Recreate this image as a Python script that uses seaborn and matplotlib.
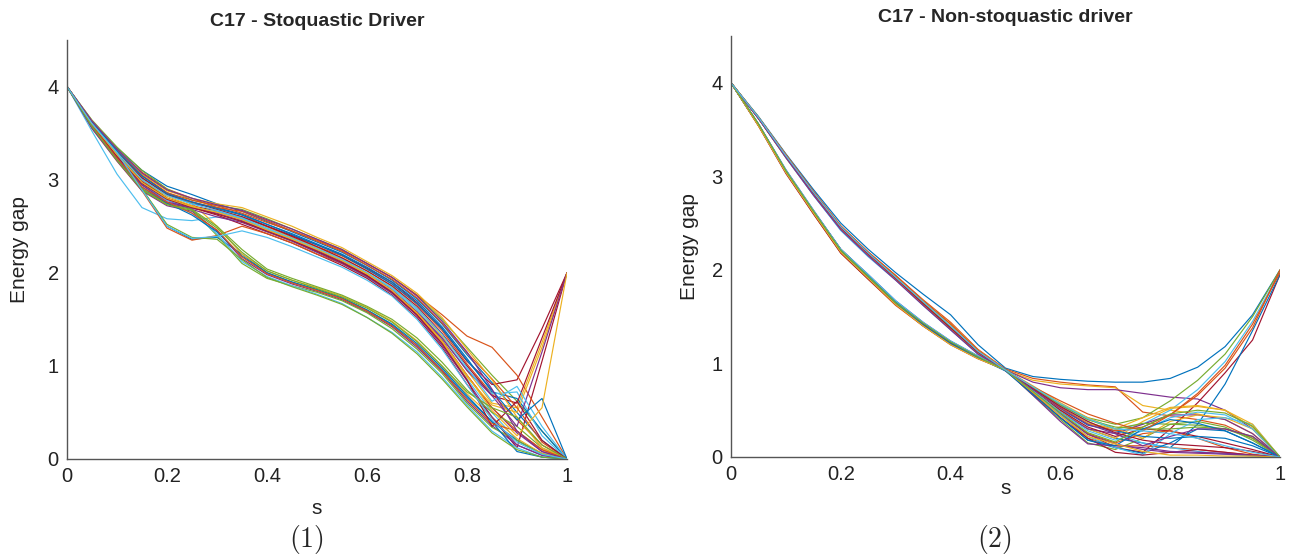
import pandas as pd
import matplotlib.pyplot as plt
import seaborn as sns

# s grid shared by every curve (both panels)
s_grid = [0, .05, .1, .15, .2, .25, .3, .35, .4, .45, .5, .55, .6, .65, .7, .75, .8, .85, .9, .95, 1.0]

# --- panel 1: stoquastic driver (energy gap) ---
st01 = [4, 3.63, 3.34, 3.10, 2.93, 2.84, 2.74, 2.66, 2.55, 2.44, 2.33, 2.22, 2.08, 1.92, 1.72, 1.45, 1.12, 0.82, 0.50, 0.20, 0]
st02 = [4, 3.62, 3.32, 3.08, 2.90, 2.80, 2.70, 2.62, 2.50, 2.40, 2.28, 2.18, 2.04, 1.88, 1.66, 1.38, 1.02, 0.70, 0.42, 0.15, 0]
st03 = [4, 3.55, 3.20, 2.88, 2.74, 2.70, 2.68, 2.60, 2.49, 2.38, 2.27, 2.16, 2.02, 1.85, 1.62, 1.32, 0.95, 0.60, 0.55, 1.25, 2.0]
st04 = [4, 3.56, 3.22, 2.90, 2.75, 2.69, 2.66, 2.58, 2.46, 2.35, 2.24, 2.13, 1.99, 1.82, 1.58, 1.28, 0.90, 0.55, 0.28, 0.08, 0]
st05 = [4, 3.64, 3.35, 3.10, 2.90, 2.78, 2.72, 2.68, 2.58, 2.47, 2.36, 2.25, 2.10, 1.95, 1.76, 1.50, 1.20, 0.90, 0.62, 0.30, 0]
st06 = [4, 3.52, 3.06, 2.70, 2.58, 2.56, 2.60, 2.56, 2.45, 2.34, 2.22, 2.10, 1.95, 1.78, 1.55, 1.24, 0.86, 0.50, 0.20, 0.05, 0]
st07 = [4, 3.60, 3.28, 3.00, 2.80, 2.70, 2.62, 2.52, 2.42, 2.32, 2.20, 2.08, 1.94, 1.76, 1.52, 1.20, 0.80, 0.45, 0.12, 1.05, 2.0]
st08 = [4, 3.60, 3.30, 2.90, 2.50, 2.36, 2.38, 2.20, 2.00, 1.90, 1.82, 1.73, 1.60, 1.44, 1.22, 0.96, 0.66, 0.40, 0.20, 0.06, 0]
st09 = [4, 3.60, 3.28, 2.88, 2.48, 2.35, 2.40, 2.50, 2.42, 2.32, 2.20, 2.10, 1.96, 1.80, 1.56, 1.26, 0.90, 0.55, 0.30, 0.10, 0]
st10 = [4, 3.62, 3.30, 3.05, 2.85, 2.75, 2.50, 2.20, 2.02, 1.92, 1.84, 1.75, 1.63, 1.48, 1.27, 1.00, 0.70, 0.45, 0.22, 0.06, 0]
st11 = [4, 3.55, 3.20, 2.88, 2.72, 2.66, 2.45, 2.15, 1.98, 1.88, 1.80, 1.71, 1.58, 1.42, 1.20, 0.94, 0.62, 0.36, 0.15, 0.04, 0]
st12 = [4, 3.60, 3.27, 3.00, 2.80, 2.68, 2.40, 2.10, 1.94, 1.86, 1.79, 1.70, 1.57, 1.40, 1.18, 0.92, 0.60, 0.34, 0.20, 0.05, 0]
st13 = [4, 3.58, 3.25, 2.95, 2.76, 2.64, 2.42, 2.12, 1.96, 1.86, 1.77, 1.67, 1.52, 1.36, 1.15, 0.88, 0.58, 0.30, 0.12, 0.02, 0]
st14 = [4, 3.60, 3.26, 2.98, 2.80, 2.72, 2.66, 2.60, 2.50, 2.40, 2.30, 2.19, 2.05, 1.90, 1.68, 1.40, 1.05, 0.80, 0.85, 1.40, 2.0]
st15 = [4, 3.61, 3.30, 3.02, 2.84, 2.74, 2.70, 2.63, 2.52, 2.42, 2.31, 2.20, 2.06, 1.90, 1.70, 1.42, 1.08, 0.72, 0.65, 0.30, 0]
st16 = [4, 3.62, 3.32, 3.05, 2.86, 2.78, 2.72, 2.64, 2.54, 2.45, 2.35, 2.24, 2.10, 1.95, 1.76, 1.55, 1.32, 1.20, 0.90, 0.45, 0]
st17 = [4, 3.60, 3.30, 3.00, 2.82, 2.72, 2.64, 2.55, 2.44, 2.34, 2.24, 2.12, 1.98, 1.80, 1.56, 1.26, 0.88, 0.58, 0.50, 1.20, 2.0]
st18 = [4, 3.58, 3.24, 2.95, 2.78, 2.68, 2.60, 2.54, 2.44, 2.34, 2.22, 2.10, 1.96, 1.78, 1.54, 1.22, 0.84, 0.45, 0.15, 0.04, 0]
st19 = [4, 3.57, 3.22, 2.90, 2.74, 2.68, 2.50, 2.25, 2.04, 1.94, 1.85, 1.76, 1.64, 1.50, 1.30, 1.04, 0.74, 0.50, 0.35, 0.12, 0]
st20 = [4, 3.59, 3.26, 2.96, 2.78, 2.70, 2.66, 2.58, 2.47, 2.37, 2.26, 2.15, 2.00, 1.83, 1.60, 1.30, 0.96, 0.70, 0.72, 0.25, 0]
st21 = [4, 3.61, 3.30, 3.02, 2.84, 2.76, 2.68, 2.60, 2.50, 2.39, 2.28, 2.16, 2.02, 1.86, 1.64, 1.35, 1.00, 0.68, 0.60, 1.30, 2.0]
st22 = [4, 3.57, 3.22, 2.92, 2.75, 2.62, 2.44, 2.18, 2.00, 1.90, 1.82, 1.73, 1.60, 1.45, 1.24, 0.98, 0.68, 0.40, 0.08, 0.02, 0]
st23 = [4, 3.62, 3.31, 3.04, 2.86, 2.76, 2.70, 2.66, 2.56, 2.45, 2.34, 2.23, 2.08, 1.93, 1.73, 1.46, 1.14, 0.86, 0.55, 0.18, 0]
st24 = [4, 3.63, 3.33, 3.06, 2.88, 2.80, 2.74, 2.70, 2.60, 2.50, 2.38, 2.27, 2.12, 1.97, 1.78, 1.52, 1.18, 0.85, 0.45, 0.12, 0]
st25 = [4, 3.58, 3.24, 2.94, 2.76, 2.70, 2.64, 2.56, 2.45, 2.35, 2.24, 2.12, 1.97, 1.80, 1.58, 1.30, 0.95, 0.68, 0.35, 1.15, 2.0]
st26 = [4, 3.60, 3.28, 2.90, 2.52, 2.38, 2.36, 2.14, 1.95, 1.85, 1.76, 1.66, 1.52, 1.35, 1.13, 0.86, 0.56, 0.28, 0.10, 0.02, 0]
st27 = [4, 3.61, 3.29, 3.00, 2.83, 2.74, 2.67, 2.59, 2.48, 2.37, 2.26, 2.14, 2.00, 1.84, 1.62, 1.34, 0.98, 0.62, 0.78, 0.35, 0]
st28 = [4, 3.59, 3.25, 2.96, 2.79, 2.70, 2.63, 2.55, 2.45, 2.35, 2.23, 2.11, 1.97, 1.79, 1.55, 1.24, 0.85, 0.35, 0.62, 0.20, 0]
st29 = [4, 3.62, 3.31, 3.04, 2.85, 2.76, 2.69, 2.62, 2.52, 2.41, 2.30, 2.19, 2.04, 1.88, 1.67, 1.40, 1.06, 0.74, 0.42, 0.65, 0]
st30 = [4, 3.58, 3.23, 2.92, 2.76, 2.64, 2.46, 2.17, 1.99, 1.89, 1.81, 1.72, 1.59, 1.43, 1.22, 0.95, 0.64, 0.38, 0.30, 0.10, 0]
st31 = [4, 3.60, 3.27, 2.97, 2.80, 2.71, 2.65, 2.57, 2.46, 2.36, 2.25, 2.13, 1.99, 1.81, 1.57, 1.27, 0.90, 0.52, 0.25, 0.55, 2.0]
st32 = [4, 3.63, 3.33, 3.07, 2.89, 2.80, 2.73, 2.67, 2.57, 2.47, 2.36, 2.25, 2.10, 1.95, 1.75, 1.48, 1.15, 0.75, 0.30, 0.08, 0]
st33 = [4, 3.57, 3.21, 2.89, 2.73, 2.67, 2.48, 2.22, 2.02, 1.92, 1.83, 1.74, 1.62, 1.47, 1.26, 1.00, 0.72, 0.55, 0.45, 0.15, 0]
st34 = [4, 3.60, 3.29, 2.89, 2.50, 2.37, 2.39, 2.45, 2.38, 2.28, 2.17, 2.06, 1.92, 1.75, 1.50, 1.18, 0.80, 0.42, 0.18, 0.05, 0]

# --- panel 2: non-stoquastic driver ---
ns01 = [4, 3.64, 3.24, 2.86, 2.50, 2.22, 1.97, 1.74, 1.52, 1.20, 0.95, 0.86, 0.83, 0.81, 0.80, 0.80, 0.84, 0.96, 1.18, 1.52, 2.0]
ns02 = [4, 3.63, 3.23, 2.84, 2.47, 2.19, 1.94, 1.68, 1.44, 1.15, 0.94, 0.84, 0.80, 0.77, 0.75, 0.48, 0.44, 0.40, 0.34, 0.20, 0]
ns03 = [4, 3.63, 3.22, 2.83, 2.46, 2.18, 1.93, 1.66, 1.42, 1.14, 0.93, 0.82, 0.78, 0.76, 0.74, 0.55, 0.50, 0.46, 0.40, 0.25, 0]
ns04 = [4, 3.62, 3.21, 2.81, 2.44, 2.16, 1.90, 1.64, 1.39, 1.12, 0.93, 0.80, 0.74, 0.72, 0.72, 0.68, 0.64, 0.62, 0.50, 0.30, 0]
ns05 = [4, 3.63, 3.22, 2.82, 2.45, 2.17, 1.92, 1.65, 1.38, 1.12, 0.93, 0.72, 0.55, 0.42, 0.35, 0.42, 0.60, 0.82, 1.10, 1.50, 2.0]
ns06 = [4, 3.62, 3.20, 2.80, 2.43, 2.15, 1.90, 1.63, 1.37, 1.11, 0.93, 0.70, 0.50, 0.36, 0.30, 0.35, 0.50, 0.72, 1.02, 1.45, 1.98]
ns07 = [4, 3.55, 3.06, 2.63, 2.22, 1.94, 1.66, 1.43, 1.23, 1.07, 0.93, 0.68, 0.45, 0.25, 0.10, 0.05, 0.30, 0.58, 0.90, 1.25, 1.95]
ns08 = [4, 3.55, 3.05, 2.62, 2.20, 1.92, 1.64, 1.41, 1.21, 1.06, 0.93, 0.70, 0.48, 0.30, 0.20, 0.15, 0.10, 0.35, 0.78, 1.35, 1.95]
ns09 = [4, 3.54, 3.04, 2.60, 2.18, 1.90, 1.62, 1.40, 1.21, 1.06, 0.93, 0.70, 0.45, 0.20, 0.12, 0.12, 0.10, 0.08, 0.05, 0.02, 0]
ns10 = [4, 3.56, 3.06, 2.63, 2.21, 1.94, 1.66, 1.43, 1.23, 1.07, 0.93, 0.72, 0.50, 0.30, 0.20, 0.38, 0.52, 0.54, 0.50, 0.32, 0]
ns11 = [4, 3.62, 3.21, 2.81, 2.44, 2.16, 1.90, 1.63, 1.36, 1.10, 0.92, 0.70, 0.48, 0.30, 0.25, 0.35, 0.45, 0.45, 0.40, 0.25, 0]
ns12 = [4, 3.55, 3.05, 2.62, 2.20, 1.92, 1.64, 1.42, 1.22, 1.07, 0.93, 0.66, 0.40, 0.15, 0.08, 0.20, 0.35, 0.38, 0.32, 0.18, 0]
ns13 = [4, 3.62, 3.20, 2.80, 2.42, 2.14, 1.89, 1.62, 1.36, 1.10, 0.93, 0.74, 0.55, 0.38, 0.25, 0.15, 0.10, 0.06, 0.03, 0.01, 0]
ns14 = [4, 3.54, 3.03, 2.60, 2.18, 1.90, 1.63, 1.40, 1.20, 1.05, 0.93, 0.72, 0.50, 0.32, 0.22, 0.30, 0.28, 0.22, 0.15, 0.08, 0]
ns15 = [4, 3.55, 3.05, 2.62, 2.20, 1.92, 1.65, 1.42, 1.22, 1.07, 0.93, 0.68, 0.42, 0.18, 0.10, 0.04, 0.15, 0.30, 0.28, 0.15, 0]
ns16 = [4, 3.55, 3.06, 2.63, 2.21, 1.93, 1.65, 1.43, 1.23, 1.07, 0.93, 0.70, 0.46, 0.25, 0.15, 0.25, 0.28, 0.20, 0.10, 0.03, 0]
ns17 = [4, 3.63, 3.23, 2.83, 2.46, 2.18, 1.93, 1.67, 1.42, 1.14, 0.93, 0.76, 0.58, 0.42, 0.30, 0.20, 0.38, 0.45, 0.42, 0.30, 0]
ns18 = [4, 3.56, 3.07, 2.64, 2.22, 1.95, 1.67, 1.44, 1.24, 1.08, 0.93, 0.70, 0.46, 0.24, 0.14, 0.08, 0.05, 0.04, 0.03, 0.02, 0]
ns19 = [4, 3.62, 3.21, 2.82, 2.45, 2.17, 1.91, 1.64, 1.38, 1.12, 0.93, 0.74, 0.56, 0.40, 0.30, 0.36, 0.35, 0.34, 0.30, 0.20, 0]
ns20 = [4, 3.55, 3.05, 2.62, 2.20, 1.92, 1.64, 1.42, 1.22, 1.06, 0.93, 0.70, 0.45, 0.22, 0.10, 0.02, 0.25, 0.40, 0.42, 0.35, 0]
ns21 = [4, 3.55, 3.06, 2.62, 2.20, 1.92, 1.65, 1.42, 1.22, 1.07, 0.93, 0.68, 0.42, 0.20, 0.05, 0.02, 0.05, 0.08, 0.05, 0.02, 0]
ns22 = [4, 3.56, 3.06, 2.63, 2.22, 1.94, 1.66, 1.43, 1.23, 1.07, 0.93, 0.72, 0.52, 0.34, 0.28, 0.22, 0.20, 0.22, 0.20, 0.12, 0]
ns23 = [4, 3.62, 3.22, 2.82, 2.45, 2.17, 1.91, 1.64, 1.37, 1.11, 0.93, 0.73, 0.53, 0.36, 0.28, 0.32, 0.45, 0.66, 0.95, 1.38, 2.0]
ns24 = [4, 3.62, 3.20, 2.81, 2.44, 2.16, 1.90, 1.63, 1.37, 1.11, 0.93, 0.72, 0.52, 0.36, 0.30, 0.42, 0.53, 0.55, 0.50, 0.35, 0]
ns25 = [4, 3.55, 3.05, 2.62, 2.20, 1.92, 1.64, 1.41, 1.21, 1.06, 0.93, 0.66, 0.38, 0.14, 0.12, 0.10, 0.06, 0.05, 0.04, 0.02, 0]
ns26 = [4, 3.63, 3.22, 2.83, 2.46, 2.18, 1.92, 1.65, 1.39, 1.12, 0.93, 0.74, 0.56, 0.40, 0.32, 0.30, 0.30, 0.32, 0.30, 0.22, 0]
ns27 = [4, 3.56, 3.07, 2.64, 2.22, 1.95, 1.67, 1.44, 1.24, 1.08, 0.93, 0.71, 0.48, 0.28, 0.18, 0.28, 0.42, 0.48, 0.45, 0.30, 0]
ns28 = [4, 3.62, 3.21, 2.82, 2.45, 2.17, 1.91, 1.64, 1.38, 1.12, 0.93, 0.73, 0.54, 0.38, 0.26, 0.18, 0.14, 0.12, 0.10, 0.06, 0]
ns29 = [4, 3.55, 3.05, 2.62, 2.20, 1.92, 1.64, 1.41, 1.21, 1.06, 0.92, 0.67, 0.42, 0.18, 0.12, 0.30, 0.40, 0.36, 0.28, 0.15, 0]
ns30 = [4, 3.63, 3.23, 2.84, 2.47, 2.19, 1.94, 1.67, 1.42, 1.14, 0.93, 0.75, 0.60, 0.46, 0.36, 0.28, 0.45, 0.68, 0.98, 1.42, 1.97]
ns31 = [4, 3.54, 3.04, 2.61, 2.19, 1.91, 1.63, 1.40, 1.20, 1.05, 0.93, 0.69, 0.44, 0.22, 0.14, 0.06, 0.02, 0.02, 0.01, 0.01, 0]
ns32 = [4, 3.62, 3.20, 2.80, 2.43, 2.15, 1.89, 1.62, 1.36, 1.10, 0.93, 0.72, 0.52, 0.35, 0.25, 0.12, 0.22, 0.30, 0.30, 0.22, 0]
ns33 = [4, 3.56, 3.06, 2.63, 2.21, 1.93, 1.65, 1.43, 1.23, 1.07, 0.93, 0.70, 0.47, 0.26, 0.16, 0.32, 0.46, 0.50, 0.47, 0.33, 0]
ns34 = [4, 3.63, 3.22, 2.83, 2.46, 2.18, 1.92, 1.66, 1.40, 1.13, 0.93, 0.75, 0.57, 0.41, 0.30, 0.28, 0.25, 0.20, 0.12, 0.05, 0]

stoq_curves = [st01, st02, st03, st04, st05, st06, st07, st08, st09, st10, st11, st12,
               st13, st14, st15, st16, st17, st18, st19, st20, st21, st22, st23, st24,
               st25, st26, st27, st28, st29, st30, st31, st32, st33, st34]
nonstoq_curves = [ns01, ns02, ns03, ns04, ns05, ns06, ns07, ns08, ns09, ns10, ns11, ns12,
                  ns13, ns14, ns15, ns16, ns17, ns18, ns19, ns20, ns21, ns22, ns23, ns24,
                  ns25, ns26, ns27, ns28, ns29, ns30, ns31, ns32, ns33, ns34]

titles = ["C17 - Stoquastic Driver", "C17 - Non-stoquastic driver"]
panel_tags = [r"$(1)$", r"$(2)$"]

# MATLAB default line colours
matlab_colors = ["#0072BD", "#D95319", "#EDB120", "#7E2F8E", "#77AC30", "#4DBEEE", "#A2142F"]


def long_table(curves):
    rows = []
    for k, vals in enumerate(curves):
        for s, e in zip(s_grid, vals):
            rows.append({"s": s, "gap": e, "curve": k})
    return pd.DataFrame(rows)


sns.set_theme(style="white")
plt.rcParams["font.family"] = ["Liberation Sans", "DejaVu Sans"]
plt.rcParams["mathtext.fontset"] = "cm"

W, H = 1293, 558
fig = plt.figure(figsize=(W / 100, H / 100), dpi=100)
ax1 = fig.add_axes([67 / W, (H - 459) / H, 500 / W, 419 / H])
ax2 = fig.add_axes([731 / W, (H - 457) / H, 549 / W, 421 / H])

axis_grey = "#555555"
for ax, curves, title in [(ax1, stoq_curves, titles[0]), (ax2, nonstoq_curves, titles[1])]:
    df = long_table(curves)
    pal = [matlab_colors[i % 7] for i in range(len(curves))]
    sns.lineplot(data=df, x="s", y="gap", hue="curve", palette=pal, legend=False,
                 estimator=None, sort=False, linewidth=0.85, ax=ax)
    ax.set_xlim(0, 1)
    ax.set_ylim(0, 4.5)
    ax.set_xticks([0, 0.2, 0.4, 0.6, 0.8, 1])
    ax.set_xticklabels(["0", "0.2", "0.4", "0.6", "0.8", "1"])
    ax.set_yticks([0, 1, 2, 3, 4])
    ax.set_yticklabels(["0", "1", "2", "3", "4"])
    for side in ["top", "right"]:
        ax.spines[side].set_visible(False)
    for side in ["left", "bottom"]:
        ax.spines[side].set_color(axis_grey)
        ax.spines[side].set_linewidth(1.0)
    ax.tick_params(direction="in", length=5, width=0.8, color=axis_grey,
                   labelsize=14.5, labelcolor="#222222", pad=6)
    ax.set_title(title, fontsize=14, fontweight="bold", pad=10)
    ax.set_ylabel("Energy gap", fontsize=15, color="#222222")
    ax.set_xlabel("s", fontsize=15, color="#222222", va="center")

ax1.xaxis.set_label_coords(0.5, -49 / 419)
ax2.xaxis.set_label_coords(0.5, -32 / 421)
ax1.yaxis.set_label_coords(-38 / 500, 0.5)
ax2.yaxis.set_label_coords(-32 / 549, 0.5)

fig.text(306 / W, 1 - 540 / H, panel_tags[0], fontsize=20, ha="center", va="center")
fig.text(994 / W, 1 - 540 / H, panel_tags[1], fontsize=20, ha="center", va="center")

fig.savefig("out.png", dpi=100)
